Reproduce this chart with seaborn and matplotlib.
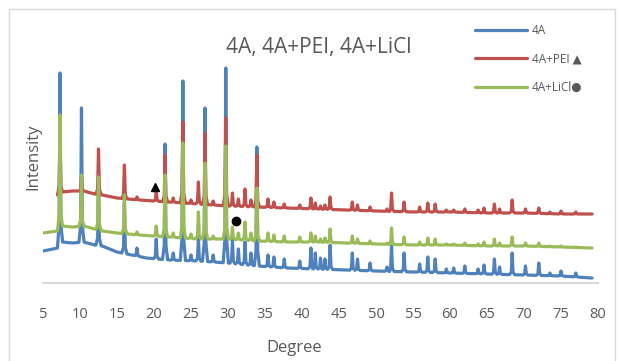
import numpy as np
import pandas as pd
import matplotlib
matplotlib.use("Agg")
import matplotlib.pyplot as plt
import seaborn as sns
from matplotlib.patches import Rectangle

# baselines (degree, intensity in arbitrary units)
blue_base_deg = [5, 7.0, 7.6, 9, 10.5, 12, 13, 15, 17, 19, 22, 26, 30, 34, 38, 42, 46, 50, 55, 60, 65, 70, 75, 79.2]
blue_base_int = [32, 35, 41, 40, 41, 38, 37, 31, 28, 25, 23, 22, 20, 17, 15, 14, 13, 12, 11, 10, 9, 8, 7, 5]
red_base_deg = [7.1, 7.6, 9, 10.5, 12, 13, 15, 18, 22, 26, 30, 34, 38, 42, 46, 50, 55, 60, 65, 70, 75, 79.2]
red_base_int = [88, 91, 92, 92, 89, 88, 85, 83, 81, 79, 77, 76, 75, 74, 73, 72, 71, 71, 70, 70, 69, 69]
green_base_deg = [5, 7.0, 7.6, 9, 10.5, 12, 13, 15, 18, 22, 26, 30, 34, 38, 42, 46, 50, 55, 60, 65, 70, 75, 79.2]
green_base_int = [50, 52, 57, 56, 57, 54, 52, 50, 48, 46, 44, 44, 42, 41, 41, 40, 39, 38, 38, 37, 37, 36, 35]

# peak positions (shared) and peak tops for each sample
peak_deg = [7.3, 10.2, 12.5, 16.0, 17.7, 20.3, 21.5, 22.6, 23.9, 25.0, 26.0, 26.9, 28.0, 29.7, 30.6,
            31.4, 32.3, 33.1, 33.9, 35.4, 36.2, 37.6, 39.7, 41.2, 41.8, 42.5, 43.1, 43.8, 46.8, 47.5,
            49.2, 51.5, 52.1, 53.8, 55.9, 57.0, 58.0, 59.5, 60.5, 62.0, 63.8, 64.6, 66.0, 66.7, 68.4,
            70.2, 72.0, 73.5, 75.0, 77.0]
blue_peak = [210, 175, 100, 80, 35, 44, 139, 30, 202, 28, 45, 175, 28, 215, 43, 34, 41, 30, 136, 28,
             26, 24, 22, 35, 30, 25, 24, 38, 30, 24, 20, 16, 37, 30, 19, 26, 24, 14, 15, 17,
             14, 18, 24, 16, 30, 17, 20, 10, 12, 10]
red_peak = [150, 105, 134, 118, 86, 91, 128, 85, 161, 83, 101, 150, 82, 165, 90, 84, 94, 83, 128, 84,
            81, 79, 78, 85, 80, 77, 78, 86, 81, 78, 76, 74, 90, 81, 76, 80, 79, 73, 73, 74,
            73, 75, 79, 74, 83, 74, 75, 71, 72, 71]
green_peak = [168, 108, 106, 88, 51, 57, 108, 50, 140, 49, 71, 120, 47, 137, 56, 50, 61, 50, 95, 50,
              48, 47, 46, 50, 47, 44, 45, 54, 47, 44, 42, 40, 55, 46, 41, 45, 44, 39, 39, 40,
              39, 41, 44, 40, 46, 40, 40, 37, 37, 36]

labels = ["4A", "4A+PEI \u25B2", "4A+LiCl\u25CF"]
colors = ["#4F81BD", "#C0504D", "#9BBB59"]

# annotation markers
tri_deg, tri_int = [20.2], [96]
dot_deg, dot_int = [31.1], [62]


def profile(bx, by, px, py, half=0.12, foot=0.35):
    # baseline vertices plus a narrow spike (with a small skirt) for every peak
    bx = np.asarray(bx, float)
    by = np.asarray(by, float)
    pts = []
    for x, y in zip(bx, by):
        if min(abs(x - p) for p in px) > foot + 0.05:
            pts.append((x, y))
    for p, h in zip(px, py):
        if p < bx[0] or p > bx[-1]:
            continue
        bl = np.interp(p - foot, bx, by)
        br = np.interp(p + foot, bx, by)
        b0 = np.interp(p, bx, by)
        skirt = b0 + 0.12 * (h - b0)
        pts += [(p - foot, bl), (p - half, skirt), (p, h), (p + half, skirt), (p + foot, br)]
    pts.sort()
    return pts


frames = []
for lab, bx, by, pk in zip(labels,
                           [blue_base_deg, red_base_deg, green_base_deg],
                           [blue_base_int, red_base_int, green_base_int],
                           [blue_peak, red_peak, green_peak]):
    d = pd.DataFrame(profile(bx, by, peak_deg, pk), columns=["Degree", "Intensity"])
    d["sample"] = lab
    frames.append(d)
df = pd.concat(frames, ignore_index=True)

sns.set_theme(style="white")
plt.rcParams["font.family"] = ["Open Sans", "DejaVu Sans"]
grey = "#595959"

fig = plt.figure(figsize=(6.2, 3.61), dpi=100)
ax = fig.add_axes([43 / 620, 1 - 283 / 361, (598 - 43) / 620, (283 - 60) / 361])

sns.lineplot(data=df, x="Degree", y="Intensity", hue="sample", hue_order=labels,
             palette=colors, sort=False, estimator=None, units="sample", lw=2.3, ax=ax)

ax.plot(tri_deg, tri_int, marker="^", color="black", ms=5.5, ls="")
ax.plot(dot_deg, dot_int, marker="o", color="black", ms=6, ls="")

ax.set_xlim(5, 80)
ax.set_ylim(0, 223)
ax.set_xticks(range(5, 81, 5))
ax.set_yticks([])
ax.tick_params(axis="x", length=0, pad=17, labelsize=10.5, labelcolor=grey)
ax.set_xlabel("")
ax.set_ylabel("")
for s in ["left", "right", "top"]:
    ax.spines[s].set_visible(False)
ax.spines["bottom"].set_color("#D9D9D9")
ax.spines["bottom"].set_linewidth(1.5)

handles, labs = ax.get_legend_handles_labels()
ax.legend_.remove()
fig.legend(handles, labs, loc="upper left", bbox_to_anchor=(475 / 620, 1 - 24 / 361),
           frameon=False, fontsize=8.5, handlelength=4.4, handletextpad=0.4,
           labelspacing=1.3, borderpad=0, borderaxespad=0, labelcolor=grey)

fig.text(319 / 620, 1 - 47 / 361, "4A, 4A+PEI, 4A+LiCl", ha="center", va="center",
         fontsize=15, color=grey)
fig.text(294 / 620, 1 - 348 / 361, "Degree", ha="center", va="center", fontsize=12, color=grey)
fig.text(33 / 620, 1 - 157 / 361, "Intensity", ha="center", va="center", rotation=90,
         fontsize=12, color=grey)

fig.patches.append(Rectangle((9 / 620, -0.05), (615 - 9) / 620, 1.05 - 9 / 361,
                             transform=fig.transFigure, fill=False, edgecolor="#D9D9D9", lw=1))

fig.savefig("out.png", dpi=100)
